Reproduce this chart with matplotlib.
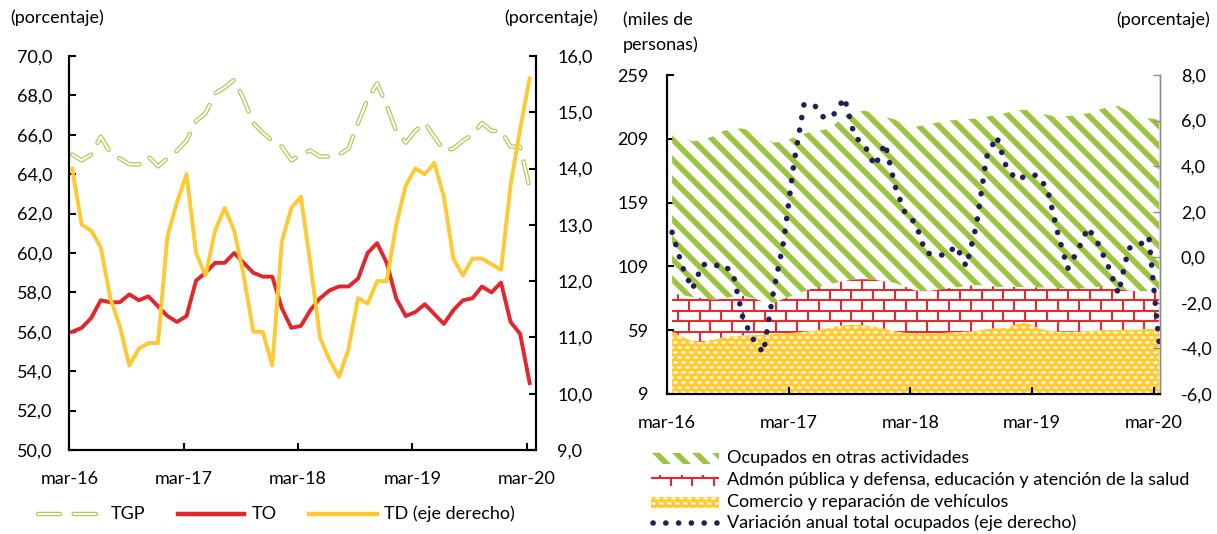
import numpy as np
import matplotlib
matplotlib.use("Agg")
import matplotlib.pyplot as plt
from matplotlib.collections import LineCollection
from matplotlib.patches import Rectangle
from matplotlib.path import Path
from matplotlib.transforms import Affine2D

plt.rcParams['font.family'] = ['Lato', 'DejaVu Sans']
plt.rcParams['lines.scale_dashes'] = False

# ----------------------------------------------------------------------
# data (monthly, mar-16 .. mar-20)
# ----------------------------------------------------------------------
x_labels = ['mar-16', 'mar-17', 'mar-18', 'mar-19', 'mar-20']

# left panel: tasas (porcentaje)
tgp = [65.0, 64.7, 65.0, 65.9, 65.1, 64.8, 64.5, 64.5, 64.9, 64.4,
       64.8, 65.2, 65.7, 66.7, 67.1, 68.1, 68.4, 68.8, 67.8, 66.6,
       66.1, 65.7, 65.4, 64.7, 65.0, 65.2, 64.9, 64.9, 65.0, 65.3,
       66.6, 67.8, 68.6, 67.5, 66.2, 65.6, 66.2, 66.6, 65.9, 65.2,
       65.3, 65.7, 66.0, 66.6, 66.2, 66.2, 65.4, 65.4, 63.3]
to = [56.0, 56.2, 56.7, 57.6, 57.5, 57.5, 57.9, 57.6, 57.8, 57.3,
      56.8, 56.5, 56.8, 58.6, 59.0, 59.5, 59.5, 60.0, 59.5, 59.0,
      58.8, 58.8, 57.2, 56.2, 56.3, 57.1, 57.7, 58.1, 58.3, 58.3,
      58.7, 60.0, 60.5, 59.5, 57.7, 56.8, 57.0, 57.4, 56.9, 56.4,
      57.1, 57.6, 57.7, 58.3, 58.0, 58.5, 56.5, 55.9, 53.4]
td = [14.0, 13.0, 12.9, 12.6, 11.7, 11.2, 10.5, 10.8, 10.9, 10.9,
      12.8, 13.4, 13.9, 12.5, 12.1, 12.9, 13.3, 12.9, 12.1, 11.1,
      11.1, 10.5, 12.7, 13.3, 13.5, 12.3, 11.0, 10.6, 10.3, 10.8,
      11.7, 11.6, 12.0, 12.0, 13.0, 13.7, 14.0, 13.9, 14.1, 13.5,
      12.4, 12.1, 12.4, 12.4, 12.3, 12.2, 13.7, 14.7, 15.6]

left_ticks = [50, 52, 54, 56, 58, 60, 62, 64, 66, 68, 70]
left_tick_labels = ['50,0', '52,0', '54,0', '56,0', '58,0', '60,0',
                    '62,0', '64,0', '66,0', '68,0', '70,0']
td_ticks = [9, 10, 11, 12, 13, 14, 15, 16]
td_tick_labels = ['9,0', '10,0', '11,0', '12,0', '13,0', '14,0', '15,0', '16,0']

# right panel: ocupados por rama (miles de personas)
comercio = [57.8, 54.0, 50.5, 50.0, 51.5, 53.5, 54.5, 55.0, 55.2, 55.5,
            56.0, 56.5, 57.0, 57.8, 58.5, 60.0, 62.0, 63.0, 63.2, 63.0,
            62.0, 60.0, 58.0, 57.0, 56.5, 56.5, 56.5, 57.0, 57.5, 57.8,
            58.5, 60.0, 60.5, 61.0, 64.0, 65.0, 61.0, 59.0, 58.0, 57.8,
            58.0, 58.5, 59.0, 59.2, 59.2, 59.4, 59.6, 60.0, 60.5]
admon = [30.2, 32.5, 34.5, 34.0, 31.5, 30.0, 31.0, 31.0, 28.8, 26.0,
         24.5, 27.0, 29.5, 31.7, 33.5, 34.0, 34.0, 34.5, 35.6, 36.0,
         36.5, 37.0, 38.0, 36.0, 33.5, 33.0, 34.0, 34.7, 35.0, 36.0,
         35.9, 34.0, 32.5, 32.0, 29.0, 27.5, 31.5, 33.5, 34.0, 33.9,
         33.7, 33.5, 34.0, 33.8, 32.0, 30.6, 29.9, 29.7, 29.2]
otras = [127.5, 124.5, 122.0, 124.0, 128.0, 131.5, 131.5, 131.0, 130.0, 128.5,
         125.5, 123.5, 123.5, 123.5, 123.0, 122.0, 124.0, 129.5, 131.2, 132.0,
         130.5, 129.0, 128.0, 126.0, 128.5, 130.3, 131.0, 131.5, 131.2, 130.5,
         130.6, 132.3, 134.6, 136.5, 138.6, 139.1, 137.0, 135.1, 134.3, 135.1,
         136.2, 137.0, 138.6, 141.2, 143.5, 140.3, 136.8, 135.3, 134.6]
var_ocup = [1.1, -0.4, -1.4, -0.3, -0.4, -0.3, -0.7, -2.7, -3.6, -4.2,
            -1.5, 0.7, 4.1, 6.7, 6.7, 6.1, 6.3, 7.0, 5.3, 4.9,
            4.0, 5.0, 3.1, 1.9, 1.5, 0.2, 0.1, 0.1, 0.5, -0.4,
            1.4, 4.4, 5.3, 3.9, 3.4, 3.6, 3.6, 3.0, 1.1, -0.5,
            0.3, 1.3, 0.6, -0.4, -1.6, 0.4, 0.5, 0.9, -3.7]

miles_ticks = [9, 59, 109, 159, 209, 259]
pct_ticks = [-6, -4, -2, 0, 2, 4, 6, 8]
pct_tick_labels = ['-6,0', '-4,0', '-2,0', '0,0', '2,0', '4,0', '6,0', '8,0']

GREEN_L = '#A9CB4C'
RED = '#E3262B'
YELLOW = '#FFC933'
STRIPE = '#9CC43E'
BRICK = '#E42A2E'
YEL_FILL = '#FFCB2F'
NAVY = '#221E58'
FS = 13

FW, FH, DPI = 12.17, 5.34, 100
fig = plt.figure(figsize=(FW, FH), dpi=DPI)
PXW, PXH = FW * DPI, FH * DPI


def px_frame(ax):
    bb = ax.get_position()
    wpx, hpx = bb.width * PXW, bb.height * PXH
    return wpx, hpx, Affine2D().scale(1 / wpx, 1 / hpx) + ax.transAxes


def clip_to(artist, clip):
    if isinstance(clip, tuple):
        artist.set_clip_path(*clip)
    else:
        artist.set_clip_path(clip)


def add_stripes(ax, clip, region=None, step=20, lw=4.0):
    wpx, hpx, tr = px_frame(ax)
    x0, x1, y0, y1 = region if region else (0, wpx, 0, hpx)
    h = y1 - y0
    segs = [[(s, y1), (s + h, y0)] for s in np.arange(x0 - h - step, x1 + step, step)]
    lc = LineCollection(segs, colors=STRIPE, linewidths=lw, transform=tr)
    ax.add_collection(lc, autolim=False)
    clip_to(lc, clip)


def add_bricks(ax, clip, region=None, bw=21.7, bh=10.4, lw=1.5):
    wpx, hpx, tr = px_frame(ax)
    x0, x1, y0, y1 = region if region else (0, wpx, 0, hpx)
    segs = []
    for r, yy in enumerate(np.arange(y0, y1 + bh, bh)):
        segs.append([(x0, yy), (x1, yy)])
        for xv in np.arange(x0 + (r % 2) * bw / 2, x1, bw):
            segs.append([(xv, yy), (xv, yy + bh)])
    lc = LineCollection(segs, colors=BRICK, linewidths=lw, transform=tr)
    ax.add_collection(lc, autolim=False)
    clip_to(lc, clip)


ELLIPSE = Path.unit_circle().transformed(Affine2D().scale(1.0, 0.5))


def add_dots(ax, clip, region=None, dx=8.0, dy=5.0):
    wpx, hpx, tr = px_frame(ax)
    x0, x1, y0, y1 = region if region else (0, wpx, 0, hpx)
    xs, ys = [], []
    for r, yy in enumerate(np.arange(y0 + dy / 2, y1, dy)):
        for xx in np.arange(x0 + (r % 2) * dx / 2, x1, dx):
            xs.append(xx)
            ys.append(yy)
    sc = ax.scatter(xs, ys, s=12, marker=ELLIPSE, c='white', linewidths=0, transform=tr)
    clip_to(sc, clip)


# ----------------------------------------------------------------------
# left panel
# ----------------------------------------------------------------------
axL = fig.add_axes([69.3 / PXW, 1 - 450 / PXH, (536.3 - 69.3) / PXW, (450 - 56) / PXH])
axL2 = axL.twinx()

xl = np.arange(len(tgp)) + 0.3
axL.plot(xl, tgp, color=GREEN_L, lw=3.2, dashes=(16, 9.7), dash_capstyle='round')
axL.plot(xl, tgp, color='white', lw=1.5, dashes=(16, 9.7), dash_capstyle='round')
axL.plot(xl, to, color=RED, lw=2.8)
axL2.plot(xl, td, color=YELLOW, lw=2.8)

axL.set_xlim(0, 49)
axL.set_ylim(50, 70)
axL2.set_ylim(9, 16)
axL.set_xticks([0, 12, 24, 36, 48], x_labels)
axL.set_yticks(left_ticks, left_tick_labels)
axL2.set_yticks(td_ticks, td_tick_labels)

for a in (axL, axL2):
    a.spines['top'].set_visible(False)
    for s in ('left', 'right', 'bottom'):
        a.spines[s].set_linewidth(1.5)
axL.tick_params(axis='both', direction='in', length=5, width=1.5, labelsize=FS)
axL.tick_params(axis='y', pad=12)
axL.tick_params(axis='x', pad=15)
axL2.tick_params(axis='y', direction='in', length=5, width=1.5, labelsize=FS, pad=15)

fig.text(10 / PXW, 1 - 18 / PXH, '(porcentaje)', fontsize=FS, va='center', ha='left')
fig.text(598 / PXW, 1 - 18 / PXH, '(porcentaje)', fontsize=FS, va='center', ha='right')

# ----------------------------------------------------------------------
# right panel
# ----------------------------------------------------------------------
axR = fig.add_axes([667 / PXW, 1 - 394 / PXH, (1160 - 667) / PXW, (394 - 75) / PXH])
axR2 = axR.twinx()

xr = np.arange(len(comercio)) + 0.5
c_top = np.array(comercio)
a_top = c_top + np.array(admon)
o_top = a_top + np.array(otras)

p_com = axR.fill_between(xr, 0, c_top, facecolor=YEL_FILL, linewidth=0)
p_adm = axR.fill_between(xr, c_top, a_top, facecolor='white', linewidth=0)
p_otr = axR.fill_between(xr, a_top, o_top, facecolor='white', linewidth=0)
add_dots(axR, (p_com.get_paths()[0], axR.transData))
add_bricks(axR, (p_adm.get_paths()[0], axR.transData))
add_stripes(axR, (p_otr.get_paths()[0], axR.transData))

axR2.plot(xr, var_ocup, color=NAVY, lw=4.0, dashes=(0.1, 9.1), dash_capstyle='round')

axR.set_xlim(0, 48.6)
axR.set_ylim(9, 259)
axR2.set_ylim(-6, 8)
axR.set_xticks([0, 12, 24, 36, 48], x_labels)
axR.set_yticks(miles_ticks, [str(v) for v in miles_ticks])
axR2.set_yticks(pct_ticks, pct_tick_labels)

for a in (axR, axR2):
    a.spines['top'].set_visible(False)
    a.spines['left'].set_linewidth(1.5)
    a.spines['bottom'].set_linewidth(1.5)
    a.spines['right'].set_color('#8C8C8C')
    a.spines['right'].set_linewidth(1.0)
axR.tick_params(axis='both', direction='in', length=5, width=1.5, labelsize=FS)
axR.tick_params(axis='y', pad=13)
axR.tick_params(axis='x', pad=15)
axR2.tick_params(axis='y', direction='in', length=5, width=1.0, color='#8C8C8C',
                 labelsize=FS, pad=15)

fig.text(623 / PXW, 1 - 20 / PXH, '(miles de', fontsize=FS, va='center', ha='left')
fig.text(623 / PXW, 1 - 45 / PXH, 'personas)', fontsize=FS, va='center', ha='left')
fig.text(1210 / PXW, 1 - 20 / PXH, '(porcentaje)', fontsize=FS, va='center', ha='right')

# ----------------------------------------------------------------------
# legends (drawn on a transparent overlay in pixel units)
# ----------------------------------------------------------------------
lax = fig.add_axes([0, 0, 1, 1])
lax.set_xlim(0, PXW)
lax.set_ylim(PXH, 0)
lax.axis('off')

ly = 514
lax.plot([38, 105], [ly, ly], color=GREEN_L, lw=3.2, dashes=(16, 9.7), dash_capstyle='round')
lax.plot([38, 105], [ly, ly], color='white', lw=1.5, dashes=(16, 9.7), dash_capstyle='round')
lax.text(111, ly, 'TGP', fontsize=FS, va='center')
lax.plot([178, 244], [ly, ly], color=RED, lw=3.2)
lax.text(252, ly, 'TO', fontsize=FS, va='center')
lax.plot([309, 377], [ly, ly], color=YELLOW, lw=3.2)
lax.text(384, ly, 'TD (eje derecho)', fontsize=FS, va='center')

hx0, hx1 = 651, 719
entries = [('Ocupados en otras actividades', 458, add_stripes, 'white'),
           ('Admón pública y defensa, educación y atención de la salud', 480, add_bricks, 'white'),
           ('Comercio y reparación de vehículos', 502, add_dots, YEL_FILL)]
for label, yc, painter, face in entries:
    rect = Rectangle((hx0, yc - 5.5), hx1 - hx0, 11, facecolor=face, linewidth=0)
    lax.add_patch(rect)
    region = (hx0 - 2, hx1 + 2, PXH - yc - 8, PXH - yc + 8)
    painter(lax, rect, region)
    lax.text(727, yc, label, fontsize=FS, va='center')

lax.plot([653, 718], [523, 523], color=NAVY, lw=4.0, dashes=(0.1, 9.1), dash_capstyle='round')
lax.text(727, 523, 'Variación anual total ocupados (eje derecho)', fontsize=FS, va='center')
lax.set_xlim(0, PXW)
lax.set_ylim(PXH, 0)

fig.savefig('out.png', dpi=DPI)
